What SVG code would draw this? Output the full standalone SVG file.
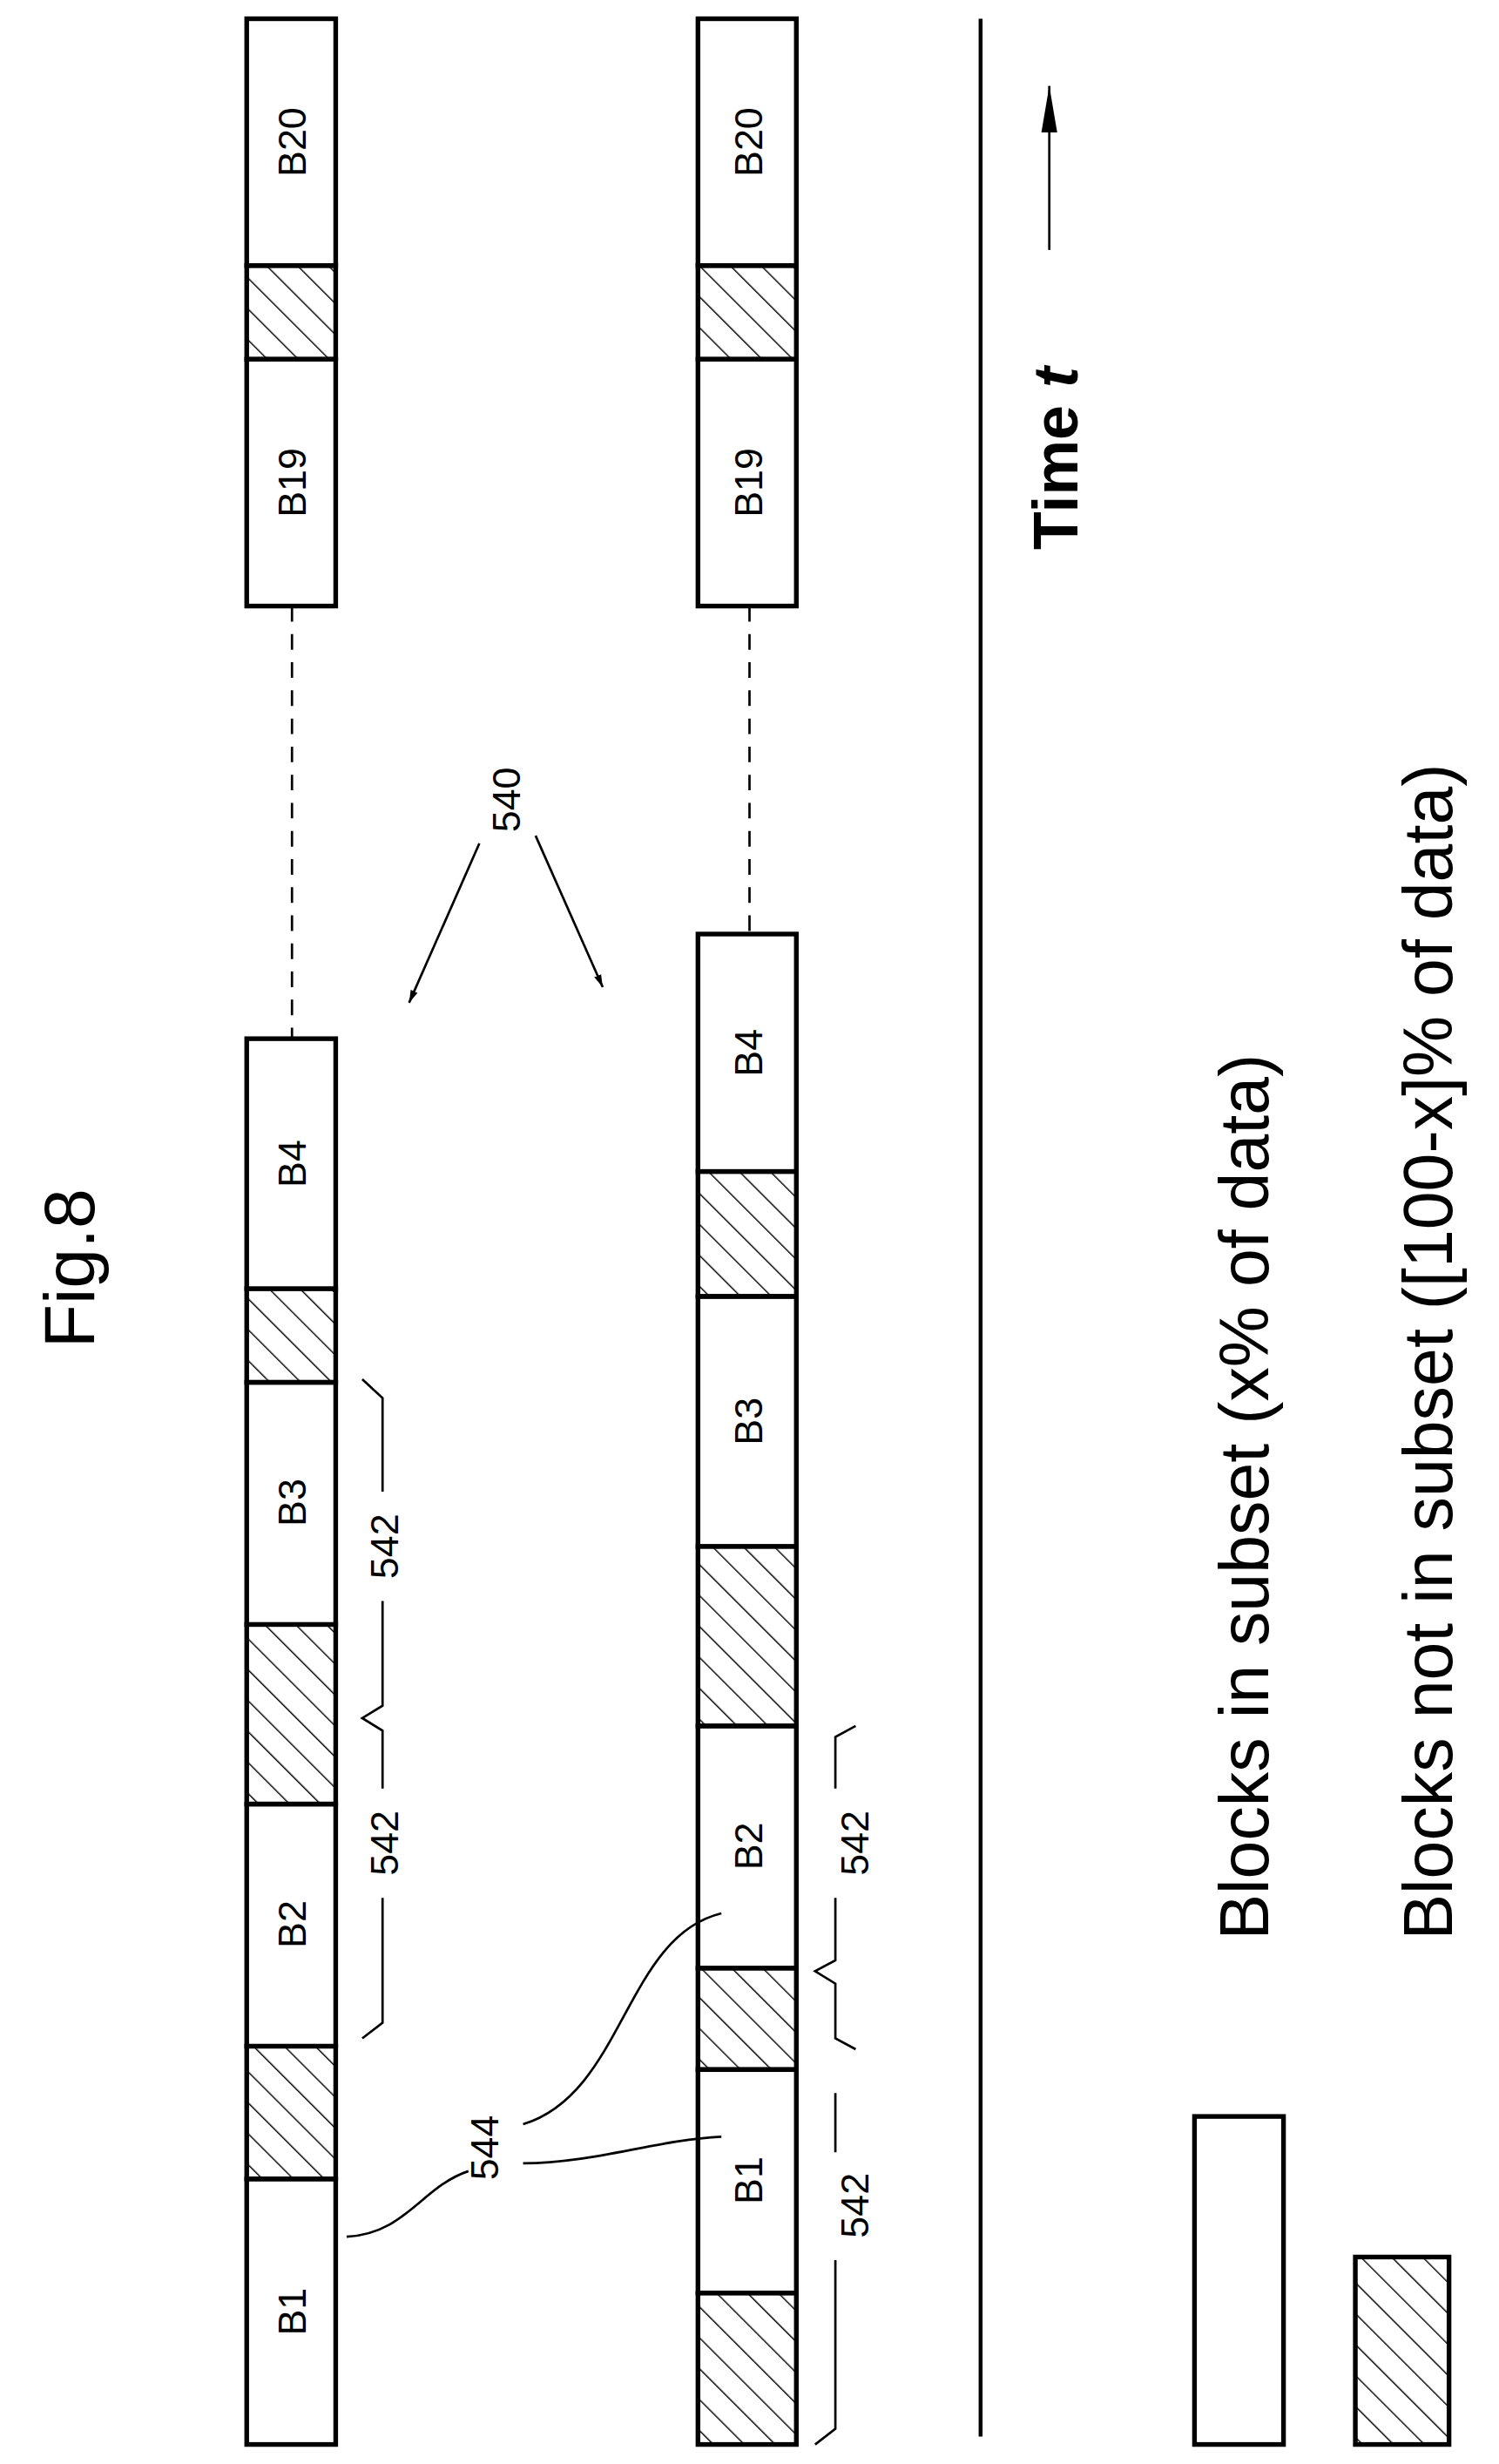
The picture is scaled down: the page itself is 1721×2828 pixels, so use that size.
<svg xmlns="http://www.w3.org/2000/svg" width="1721" height="2828" viewBox="0 0 1721 2828">
<defs>
<pattern id="h" patternUnits="userSpaceOnUse" width="14" height="14" patternTransform="rotate(-45)">
<line x1="0" y1="0" x2="0" y2="14" stroke="#000" stroke-width="1.6"/>
</pattern>
<marker id="ar" viewBox="0 0 10 10" refX="10" refY="5" markerWidth="8" markerHeight="8" orient="auto" markerUnits="userSpaceOnUse"><path d="M0,2 L10,5 L0,8 z" fill="#000"/></marker>
<marker id="ar2" viewBox="0 0 10 10" refX="10" refY="5" markerWidth="30" markerHeight="30" orient="auto" markerUnits="userSpaceOnUse"><path d="M0,3.3 L10,5 L0,6.7 z" fill="#000"/></marker>
</defs>
<style>
.b{fill:#fff;stroke:#000;stroke-width:3}
.x{fill:url(#h);stroke:#000;stroke-width:3}
.t{font-family:"Liberation Sans",Arial,sans-serif;font-size:25px;text-anchor:middle}
.l{fill:none;stroke:#000;stroke-width:1.5}
.d{fill:none;stroke:#000;stroke-width:1.5;stroke-dasharray:10,8}
</style>
<g transform="scale(1.7927)">
<text class="t" style="font-size:46px" transform="translate(60,812) rotate(-90)">Fig.8</text>
<g id="row1">
<rect class="b" x="158" y="1395" width="57" height="170"/><text class="t" transform="translate(196,1480) rotate(-90)">B1</text>
<rect class="x" x="158" y="1310" width="57" height="85"/>
<rect class="b" x="158" y="1155" width="57" height="155"/><text class="t" transform="translate(196,1232) rotate(-90)">B2</text>
<rect class="x" x="158" y="1040" width="57" height="115"/>
<rect class="b" x="158" y="885" width="57" height="155"/><text class="t" transform="translate(196,962) rotate(-90)">B3</text>
<rect class="x" x="158" y="825" width="57" height="60"/>
<rect class="b" x="158" y="665" width="57" height="160"/><text class="t" transform="translate(196,745) rotate(-90)">B4</text>
<rect class="b" x="158" y="230" width="57" height="158"/><text class="t" transform="translate(196,309) rotate(-90)">B19</text>
<rect class="x" x="158" y="170" width="57" height="60"/>
<rect class="b" x="158" y="12" width="57" height="158"/><text class="t" transform="translate(196,91) rotate(-90)">B20</text>
</g>
<g id="row2">
<rect class="x" x="447" y="1468" width="63" height="97"/>
<rect class="b" x="447" y="1325" width="63" height="143"/><text class="t" transform="translate(488,1396) rotate(-90)">B1</text>
<rect class="x" x="447" y="1260" width="63" height="65"/>
<rect class="b" x="447" y="1105" width="63" height="155"/><text class="t" transform="translate(488,1182) rotate(-90)">B2</text>
<rect class="x" x="447" y="990" width="63" height="115"/>
<rect class="b" x="447" y="830" width="63" height="160"/><text class="t" transform="translate(488,910) rotate(-90)">B3</text>
<rect class="x" x="447" y="750" width="63" height="80"/>
<rect class="b" x="447" y="598" width="63" height="152"/><text class="t" transform="translate(488,674) rotate(-90)">B4</text>
<rect class="b" x="447" y="230" width="63" height="158"/><text class="t" transform="translate(488,309) rotate(-90)">B19</text>
<rect class="x" x="447" y="170" width="63" height="60"/>
<rect class="b" x="447" y="12" width="63" height="158"/><text class="t" transform="translate(488,91) rotate(-90)">B20</text>
</g>
<g id="legend">
<rect class="b" x="765" y="1355" width="57" height="210"/>
<rect class="x" x="868" y="1445" width="60" height="120"/>
<text class="t" style="font-size:44px;text-anchor:start" transform="translate(812,1242) rotate(-90)">Blocks in subset (x% of data)</text>
<text class="t" style="font-size:44px;text-anchor:start" transform="translate(930,1242) rotate(-90)">Blocks not in subset ([100-x]% of data)</text>
<text class="t" style="font-size:40px;font-weight:bold;text-anchor:start" transform="translate(690,352) rotate(-90)">Time <tspan font-style="italic">t</tspan></text>
</g>
<g id="labels">
<text class="t" transform="translate(333,512) rotate(-90)">540</text>
<text class="t" transform="translate(319,1375) rotate(-90)">544</text>
<text class="t" transform="translate(255,1180) rotate(-90)">542</text>
<text class="t" transform="translate(255,990) rotate(-90)">542</text>
<text class="t" transform="translate(556,1180) rotate(-90)">542</text>
<text class="t" transform="translate(556,1412) rotate(-90)">542</text>
</g>
<g id="connectors">
<line class="d" x1="187" y1="388" x2="187" y2="665"/>
<line class="d" x1="480" y1="388" x2="480" y2="598"/>
<line x1="628" y1="12" x2="628" y2="1560" stroke="#000" stroke-width="2.5"/>
<line class="l" x1="672" y1="160" x2="672" y2="55" marker-end="url(#ar2)"/>
<line class="l" x1="307" y1="540" x2="262" y2="642" marker-end="url(#ar)"/>
<line class="l" x1="343" y1="535" x2="386" y2="632" marker-end="url(#ar)"/>
<path class="l" d="M300,1390 C270,1400 260,1430 222,1432"/>
<path class="l" d="M335,1385 C380,1385 420,1370 462,1368"/>
<path class="l" d="M335,1360 C400,1340 400,1240 462,1225"/>
<path class="l" d="M232,1305 L245,1295 L245,1215 M245,1145 L245,1108 L232,1100 L245,1092 L245,1025 M245,955 L245,895 L232,883"/>
<path class="l" d="M548,1105 L535,1112 L535,1145 M535,1215 L535,1255 L522,1262 L535,1270 L535,1305 L548,1312"/>
<path class="l" d="M535,1340 L535,1378 M535,1447 L535,1555 L522,1565"/>
</g>
</g>
</svg>
